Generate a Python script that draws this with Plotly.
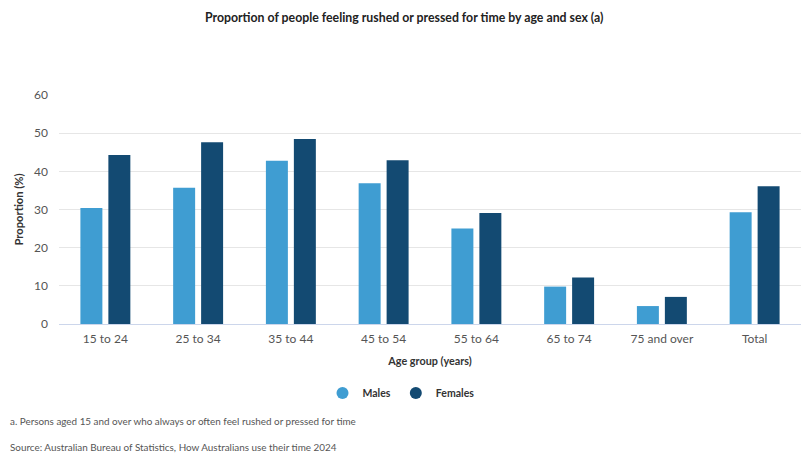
import plotly.graph_objects as go

categories = ["15 to 24", "25 to 34", "35 to 44", "45 to 54", "55 to 64", "65 to 74", "75 and over", "Total"]
males = [30.4, 35.7, 42.8, 36.9, 25.0, 9.8, 4.7, 29.3]
females = [44.3, 47.6, 48.5, 42.9, 29.1, 12.2, 7.1, 36.1]
y_ticks = [0, 10, 20, 30, 40, 50, 60]

male_color = "#3f9dd2"
female_color = "#134a72"
FONT = "Lato, Noto Sans, sans-serif"

# page body has an 8px margin: work in page pixels minus 8
OFF = 8
W, H = 809 - OFF, 466 - OFF
PL, PR, PT, PB = 59 - OFF, 801 - OFF, 95 - OFF, 324 - OFF
pw, ph = PR - PL, PB - PT

def px(x):
    return (x - OFF - PL) / pw

def py(y):
    return (PB - (y - OFF)) / ph

fig = go.Figure()
fig.add_trace(go.Bar(x=categories, y=males, name="Males", marker_color=male_color,
                     showlegend=False, marker_line_width=0))
fig.add_trace(go.Bar(x=categories, y=females, name="Females", marker_color=female_color,
                     showlegend=False, marker_line_width=0))
for nm, col in [("Males", male_color), ("Females", female_color)]:
    fig.add_trace(go.Scatter(x=[None], y=[None], mode="markers", name=nm,
                             marker=dict(symbol="circle", size=14, color=col)))

fig.update_layout(
    width=W, height=H,
    margin=dict(l=PL, r=W - PR, t=PT, b=H - PB, autoexpand=False),
    paper_bgcolor="white", plot_bgcolor="white",
    font=dict(family=FONT, color="#333333"),
    barmode="group", bargap=0.397, bargroupgap=0.214,
    showlegend=True,
    legend=dict(orientation="h", x=px(401), xanchor="center", y=py(393), yanchor="middle",
                font=dict(size=10.5, color="#333333", family=FONT, weight="bold"),
                itemsizing="constant", itemwidth=30, traceorder="normal"),
    xaxis=dict(showgrid=False, showline=True, linecolor="#ccd6eb", linewidth=1,
               tickfont=dict(size=12, color="#555555"), ticks="",
               ticklabelstandoff=4,
               title=dict(text="Age group (years)", font=dict(size=10.8, color="#333333", weight="bold"),
                          standoff=12)),
    yaxis=dict(range=[0, 60], tickvals=y_ticks, showgrid=True, gridcolor="#e6e6e6",
               zeroline=False, tickfont=dict(size=12, color="#555555"), ticks="",
               ticklabelstandoff=10,
               title=dict(text="Proportion (%)", font=dict(size=11.2, color="#333333", weight="bold"),
                          standoff=8)),
)

fig.add_annotation(text="Proportion of people feeling rushed or pressed for time by age and sex (a)",
                   xref="paper", yref="paper", x=px(404), y=py(17),
                   xanchor="center", yanchor="middle", showarrow=False,
                   font=dict(size=12.3, color="#222222", family=FONT, weight="bold"))
fig.add_annotation(text="a. Persons aged 15 and over who always or often feel rushed or pressed for time",
                   xref="paper", yref="paper", x=px(8), y=py(421),
                   xanchor="left", yanchor="middle", showarrow=False,
                   font=dict(size=9.9, color="#555555", family=FONT))
fig.add_annotation(text="Source: Australian Bureau of Statistics, How Australians use their time 2024",
                   xref="paper", yref="paper", x=px(8), y=py(447),
                   xanchor="left", yanchor="middle", showarrow=False,
                   font=dict(size=9.9, color="#555555", family=FONT))

fig.write_html("out.html")
